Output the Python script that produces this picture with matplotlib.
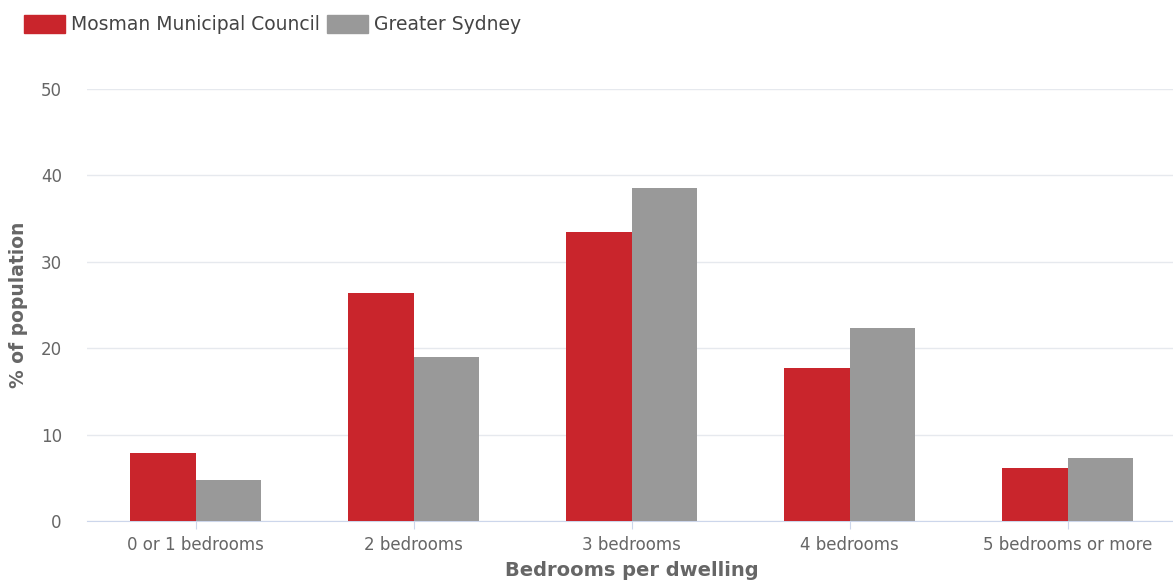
import numpy as np
import matplotlib.pyplot as plt
from matplotlib.patches import Patch

plt.rcParams["font.family"] = ["DejaVu Sans"]

categories = ["0 or 1 bedrooms", "2 bedrooms", "3 bedrooms", "4 bedrooms", "5 bedrooms or more"]
mosman = [7.9, 26.4, 33.4, 17.7, 6.1]
sydney = [4.7, 19.0, 38.6, 22.3, 7.3]
series_names = ["Mosman Municipal Council", "Greater Sydney"]
y_ticks = [0, 10, 20, 30, 40, 50]

RED = "#c9252c"
GREY = "#999999"
TEXT = "#666666"

fig = plt.figure(figsize=(11.73, 5.86), dpi=100)
ax = fig.add_axes([0.074, 0.111, 0.929, 0.737])

x = np.arange(len(categories))
w = 0.3
ax.bar(x - w / 2, mosman, width=w, color=RED, zorder=3)
ax.bar(x + w / 2, sydney, width=w, color=GREY, zorder=3)

ax.set_xlim(-0.5, len(categories) - 0.5)
ax.set_ylim(0, 50)
ax.set_yticks(y_ticks)
ax.set_xticks(x)
ax.set_xticklabels(categories)

ax.grid(axis="y", color="#e6e9ee", linewidth=1, zorder=0)
for side in ["top", "right", "left"]:
    ax.spines[side].set_visible(False)
ax.spines["bottom"].set_color("#ccd6eb")
ax.tick_params(axis="y", length=0, pad=18, labelsize=12, labelcolor=TEXT)
ax.tick_params(axis="x", length=6, color="#ccd6eb", pad=5, labelsize=12, labelcolor=TEXT)

ax.set_ylabel("% of population", fontsize=13.5, fontweight="bold", color=TEXT, labelpad=9)
ax.set_xlabel("Bedrooms per dwelling", fontsize=14, fontweight="bold", color=TEXT, labelpad=5)

handles = [Patch(color=RED), Patch(color=GREY)]
fig.legend(handles, series_names, loc="upper left", bbox_to_anchor=(0.006, 1.003),
           ncol=2, frameon=False, fontsize=13.5, labelcolor="#444444",
           handlelength=2.2, handleheight=1.1, handletextpad=0.3, columnspacing=0.4)

fig.savefig("out.png", dpi=100, facecolor="white")
